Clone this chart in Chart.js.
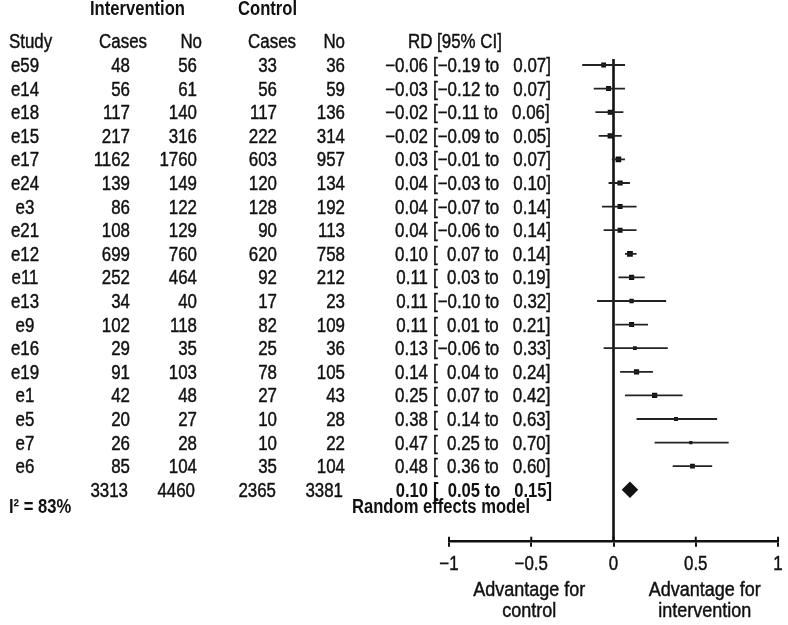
<!DOCTYPE html>
<html>
<head>
<meta charset="utf-8">
<script src="https://cdn.jsdelivr.net/npm/chart.js@4.4.1/dist/chart.umd.min.js"></script>
<style>
  html, body { margin: 0; padding: 0; background: #fff; }
  canvas { display: block; }
</style>
</head>
<body>
<canvas id="forest" width="788" height="625"></canvas>
<script>
const studies = ["e59", "e14", "e18", "e15", "e17", "e24", "e3", "e21", "e12", "e11", "e13", "e9", "e16", "e19", "e1", "e5", "e7", "e6"];
const intCases = [48, 56, 117, 217, 1162, 139, 86, 108, 699, 252, 34, 102, 29, 91, 42, 20, 26, 85];
const intTotal = [56, 61, 140, 316, 1760, 149, 122, 129, 760, 464, 40, 118, 35, 103, 48, 27, 28, 104];
const ctlCases = [33, 56, 117, 222, 603, 120, 128, 90, 620, 92, 17, 82, 25, 78, 27, 10, 10, 35];
const ctlTotal = [36, 59, 136, 314, 957, 134, 192, 113, 758, 212, 23, 109, 36, 105, 43, 28, 22, 104];
const rd = [-0.06, -0.03, -0.02, -0.02, 0.03, 0.04, 0.04, 0.04, 0.10, 0.11, 0.11, 0.11, 0.13, 0.14, 0.25, 0.38, 0.47, 0.48];
const ciLow = [-0.19, -0.12, -0.11, -0.09, -0.01, -0.03, -0.07, -0.06, 0.07, 0.03, -0.10, 0.01, -0.06, 0.04, 0.07, 0.14, 0.25, 0.36];
const ciHigh = [0.07, 0.07, 0.06, 0.05, 0.07, 0.10, 0.14, 0.14, 0.14, 0.19, 0.32, 0.21, 0.33, 0.24, 0.42, 0.63, 0.70, 0.60];
// study weights (%), estimated from square sizes
const weights = [5.5, 6, 6, 6.5, 7.5, 6.5, 6, 6, 8, 6.5, 4.5, 6, 3.5, 6.5, 6.5, 3.5, 2.5, 5.5];
const totals = [3313, 4460, 2365, 3381];
const pooledRd = 0.10;
const pooledLow = 0.05;
const pooledHigh = 0.15;
const i2 = 83;
const xTicks = [-1, -0.5, 0, 0.5, 1];

// no condensed font installed, so Liberation Sans is squeezed horizontally
const FONT = "'Liberation Sans', Arial, sans-serif";
const INK = "#111";
const totalRow = studies.length + 1;

function fmt(v) {
  const s = Math.abs(v).toFixed(2);
  return v < 0 ? "\u2212" + s : s;
}
function pad(v) {
  return v < 0 ? fmt(v) : "  " + fmt(v);
}
function ciText(lo, hi) {
  return "[" + pad(lo) + " to " + pad(hi) + "]";
}
function tickText(v) {
  return v < 0 ? "\u2212" + Math.abs(v) : String(v);
}

// one short line per study for the confidence interval
const ciSets = studies.map((s, i) => ({
  type: "scatter",
  data: [{ x: ciLow[i], y: i + 1 }, { x: ciHigh[i], y: i + 1 }],
  showLine: true,
  borderColor: "#222",
  borderWidth: 1.8,
  pointRadius: 0
}));

const tablePlugin = {
  id: "table",
  afterDraw(chart) {
    const ctx = chart.ctx;
    const xs = chart.scales.x;
    const ys = chart.scales.y;
    const text = (s, x, y, align, bold, size, squeeze) => {
      ctx.save();
      ctx.font = (bold ? "bold " : "") + size + "px " + FONT;
      ctx.textAlign = align;
      ctx.translate(x, y);
      ctx.scale(squeeze, 1);
      ctx.fillText(s, 0, 0);
      if (!bold) {
        ctx.lineWidth = 0.45;
        ctx.strokeText(s, 0, 0);
      }
      ctx.restore();
    };
    const put = (s, x, r, align, bold) =>
      text(s, x, ys.getPixelForValue(r) + 7, align, bold, 20, bold ? 0.83 : 0.845);

    ctx.save();
    ctx.fillStyle = INK;
    ctx.strokeStyle = INK;
    ctx.textBaseline = "alphabetic";

    // headers
    put("Intervention", 90, -1.4, "left", true);
    put("Control", 238, -1.4, "left", true);
    put("Study", 9, 0, "left");
    put("Cases", 147, 0, "right");
    put("No", 202, 0, "right");
    put("Cases", 296, 0, "right");
    put("No", 345, 0, "right");
    put("RD [95% CI]", 408, 0, "left");

    studies.forEach((s, i) => {
      const r = i + 1;
      put(s, 25, r, "center");
      put(String(intCases[i]), 130, r, "right");
      put(String(intTotal[i]), 197, r, "right");
      put(String(ctlCases[i]), 277, r, "right");
      put(String(ctlTotal[i]), 345, r, "right");
      put(fmt(rd[i]), 428, r, "right");
      put(ciText(ciLow[i], ciHigh[i]), 433, r, "left");
    });

    put(String(totals[0]), 128, totalRow, "right");
    put(String(totals[1]), 195, totalRow, "right");
    put(String(totals[2]), 276, totalRow, "right");
    put(String(totals[3]), 343, totalRow, "right");
    put(fmt(pooledRd), 428, totalRow, "right", true);
    put(ciText(pooledLow, pooledHigh), 433, totalRow, "left", true);

    put("I\u00B2 = " + i2 + "%", 9, totalRow + 0.7, "left", true);
    put("Random effects model", 352, totalRow + 0.7, "left", true);

    // upper half of the axis ticks, and the tick labels
    ctx.lineWidth = 2;
    const b = chart.chartArea.bottom;
    xs.ticks.forEach((t) => {
      const px = xs.getPixelForValue(t.value);
      ctx.beginPath();
      ctx.moveTo(px, b - 5);
      ctx.lineTo(px, b);
      ctx.stroke();
      text(tickText(t.value), px, 570, "center", false, 20, 0.845);
    });

    // direction labels
    const lx = xs.getPixelForValue(-0.5) - 2;
    const rx = xs.getPixelForValue(0.555);
    text("Advantage for", lx, 596, "center", false, 20, 0.9);
    text("control", lx, 617, "center", false, 20, 0.9);
    text("Advantage for", rx, 596, "center", false, 20, 0.9);
    text("intervention", rx, 617, "center", false, 20, 0.9);
    ctx.restore();
  }
};

new Chart(document.getElementById("forest"), {
  type: "scatter",
  data: {
    datasets: [
      ...ciSets,
      {
        type: "scatter",
        data: rd.map((v, i) => ({ x: v, y: i + 1 })),
        pointStyle: "rect",
        pointRadius: weights.map((w) => Math.sqrt(w) * 1.45),
        backgroundColor: INK,
        borderWidth: 0
      },
      {
        type: "scatter",
        data: [{ x: pooledRd, y: totalRow }],
        pointStyle: "rectRot",
        pointRadius: (c) => {
          const xs = c.chart.scales.x;
          return (xs.getPixelForValue(pooledHigh) - xs.getPixelForValue(pooledLow)) / 2;
        },
        backgroundColor: INK,
        borderWidth: 0
      },
      {
        type: "scatter",
        data: [{ x: 0, y: 0.75 }, { x: 0, y: 21.2 }],
        showLine: true,
        borderColor: INK,
        borderWidth: 2.6,
        pointRadius: 0
      }
    ]
  },
  options: {
    responsive: false,
    animation: false,
    events: [],
    layout: { padding: { left: 449, right: 10, top: 17.8, bottom: 41.3 } },
    plugins: { legend: { display: false }, tooltip: { enabled: false } },
    scales: {
      x: {
        type: "linear",
        min: -1,
        max: 1,
        afterBuildTicks: (scale) => { scale.ticks = xTicks.map((v) => ({ value: v })); },
        afterFit: (scale) => { scale.height = 42; },
        border: { display: true, color: INK, width: 2.4 },
        grid: { drawOnChartArea: false, drawTicks: true, tickLength: 5, color: INK, lineWidth: 2 },
        ticks: { display: false }
      },
      y: {
        type: "linear",
        reverse: true,
        min: -1,
        max: 21.2,
        display: false
      }
    }
  },
  plugins: [tablePlugin]
});
</script>
</body>
</html>
